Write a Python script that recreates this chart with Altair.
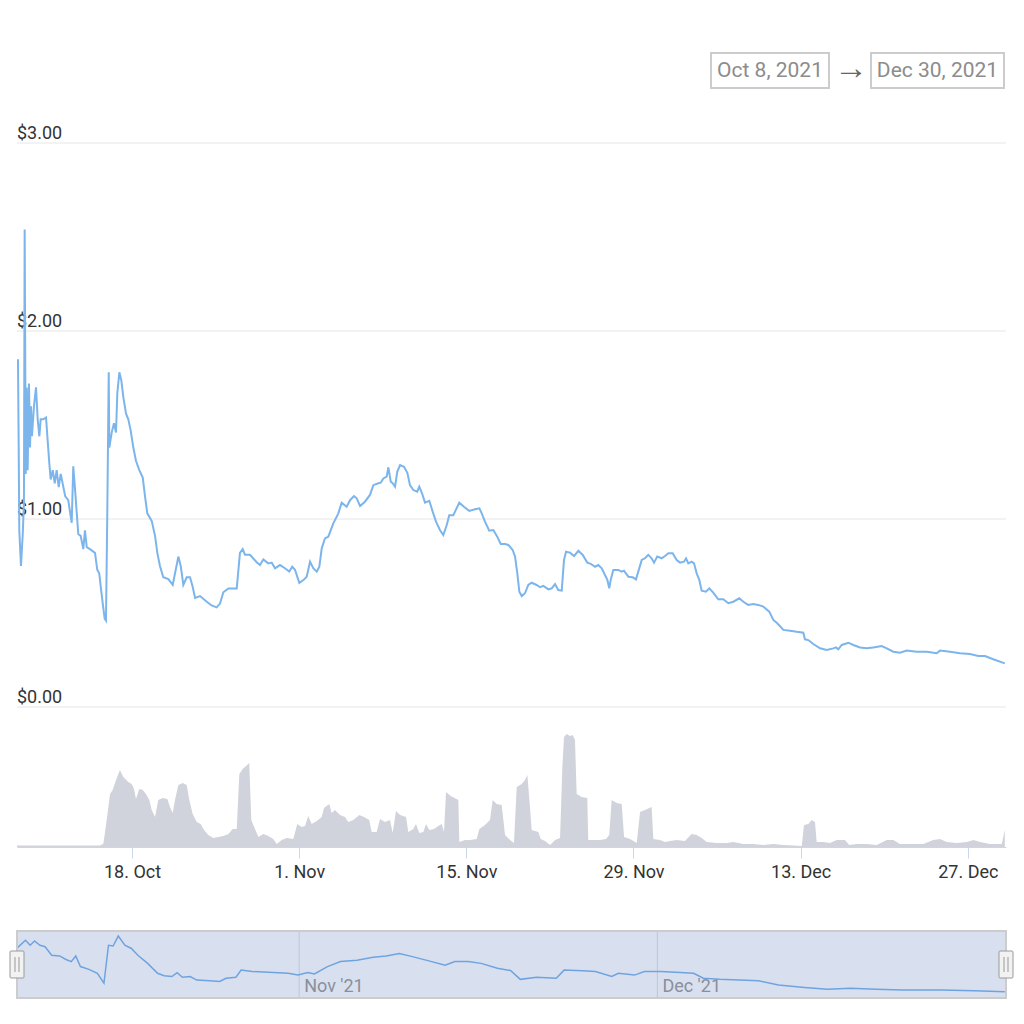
import altair as alt
import pandas as pd

# ---------------- data (days since 2021-10-08 00:00 UTC) ----------------
price_day = [0.45,0.51,0.56,0.70,0.85,0.95,1.01,1.10,1.18,1.26,
1.37,1.46,1.54,1.62,1.79,1.96,2.10,2.24,2.35,2.57,
2.80,2.91,3.07,3.19,3.36,3.53,3.69,3.86,4.03,4.25,
4.41,4.66,4.95,5.08,5.25,5.50,5.70,5.92,6.06,6.21,
6.48,6.90,7.09,7.26,7.38,7.55,7.71,7.82,7.93,8.05,
8.10,8.30,8.49,8.66,8.77,8.94,9.10,9.27,9.50,9.69,
9.89,10.11,10.33,10.61,10.90,11.09,11.28,11.65,11.93,12.12,
12.34,12.62,13.04,13.41,13.60,13.88,14.08,14.30,14.58,14.86,
15.08,15.28,15.70,16.26,16.67,17.09,17.37,17.65,18.07,18.77,
19.04,19.27,19.46,19.88,20.44,20.72,21.00,21.41,21.70,21.98,
22.39,22.81,23.17,23.42,23.65,24.01,24.35,24.63,24.91,25.18,
25.47,25.69,25.89,26.16,26.44,26.86,27.28,27.56,27.98,28.26,
28.59,28.82,29.10,29.51,29.93,30.21,30.63,30.83,31.05,31.33,
31.47,31.67,31.83,32.03,32.22,32.45,32.78,33.06,33.28,33.56,
33.89,34.06,34.29,34.54,34.90,35.18,35.46,35.80,36.07,36.36,
36.57,36.91,37.41,37.80,38.25,38.73,39.09,39.29,39.56,39.92,
40.26,40.59,40.88,41.24,41.52,41.88,42.08,42.27,42.44,42.64,
42.91,43.19,43.47,43.89,44.17,44.45,44.87,45.15,45.43,45.70,
45.99,46.18,46.35,46.68,47.02,47.38,47.75,48.13,48.42,48.78,
49.05,49.34,49.61,49.81,49.97,50.09,50.31,50.73,51.01,51.20,
51.57,51.93,52.21,52.40,52.69,52.96,53.24,53.52,53.72,53.99,
54.36,54.64,54.92,55.28,55.62,55.90,56.23,56.40,56.59,56.88,
57.07,57.29,57.51,57.71,58.07,58.35,58.68,59.10,59.52,59.94,
60.36,60.86,61.20,61.61,62.03,62.45,62.87,63.37,63.71,64.04,
64.55,65.11,65.67,66.22,66.36,66.64,67.06,67.62,68.18,68.73,
68.96,69.15,69.44,69.99,70.41,70.97,71.53,72.08,72.79,73.21,
73.76,74.32,74.88,75.72,76.56,77.39,77.67,78.51,79.35,80.18,
80.88,81.44,82.13,83.10]

price_usd = [1.85,1.38,0.94,0.75,0.92,1.09,2.54,1.24,1.70,1.26,
1.72,1.38,1.60,1.44,1.60,1.70,1.53,1.44,1.53,1.53,
1.54,1.44,1.30,1.21,1.26,1.19,1.26,1.17,1.24,1.17,
1.12,1.10,0.98,1.28,1.14,0.92,0.91,0.84,0.94,0.85,
0.84,0.82,0.73,0.71,0.64,0.55,0.47,0.46,1.03,1.78,
1.38,1.46,1.51,1.46,1.67,1.78,1.74,1.65,1.56,1.53,
1.47,1.38,1.31,1.26,1.22,1.12,1.03,0.99,0.91,0.82,
0.75,0.69,0.68,0.65,0.71,0.80,0.75,0.65,0.69,0.69,
0.64,0.58,0.59,0.56,0.54,0.53,0.55,0.61,0.63,0.63,
0.82,0.84,0.81,0.81,0.77,0.755,0.785,0.764,0.768,0.738,
0.755,0.738,0.72,0.746,0.73,0.66,0.675,0.693,0.773,0.738,
0.72,0.746,0.844,0.897,0.906,0.977,1.03,1.087,1.065,1.10,
1.122,1.11,1.069,1.092,1.128,1.18,1.19,1.193,1.216,1.225,
1.275,1.198,1.19,1.172,1.252,1.287,1.278,1.246,1.18,1.154,
1.145,1.172,1.137,1.087,1.097,1.039,0.986,0.94,0.915,0.968,
1.02,1.02,1.087,1.065,1.043,1.052,1.057,1.03,0.986,0.938,
0.941,0.906,0.867,0.867,0.862,0.835,0.80,0.711,0.613,0.59,
0.605,0.649,0.661,0.649,0.637,0.644,0.626,0.631,0.654,0.622,
0.619,0.782,0.826,0.821,0.803,0.831,0.809,0.768,0.761,0.746,
0.755,0.738,0.702,0.676,0.631,0.676,0.729,0.729,0.72,0.725,
0.693,0.69,0.679,0.72,0.782,0.791,0.809,0.791,0.768,0.80,
0.791,0.803,0.818,0.818,0.782,0.768,0.773,0.791,0.764,0.773,
0.764,0.711,0.676,0.619,0.613,0.631,0.608,0.573,0.573,0.552,
0.56,0.578,0.56,0.543,0.548,0.543,0.534,0.507,0.463,0.445,
0.41,0.406,0.40,0.395,0.36,0.356,0.335,0.312,0.303,0.312,
0.317,0.307,0.33,0.342,0.33,0.317,0.312,0.317,0.324,0.312,
0.294,0.289,0.30,0.294,0.294,0.286,0.30,0.294,0.286,0.282,
0.271,0.271,0.254,0.232]

volume_day = [0.37,3.97,7.32,7.60,7.88,8.16,8.38,8.66,8.99,9.27,
9.69,9.97,10.17,10.33,10.61,10.90,11.17,11.45,11.65,11.93,
12.20,12.57,12.96,13.18,13.41,13.60,13.88,14.25,14.58,14.80,
15.08,15.42,15.75,16.03,16.39,16.81,17.23,17.65,18.07,18.43,
18.77,18.99,19.27,19.55,19.82,19.99,20.30,20.58,21.00,21.41,
21.83,22.12,22.54,22.96,23.51,23.84,24.21,24.49,24.76,25.05,
25.47,25.89,26.08,26.52,26.72,27.00,27.42,27.84,28.11,28.53,
29.04,29.43,29.87,30.07,30.49,30.77,31.19,31.61,31.83,32.11,
32.45,32.95,33.14,33.56,33.78,34.06,34.40,34.62,34.90,35.29,
35.65,35.94,36.13,36.30,36.69,37.33,37.41,37.89,38.31,38.87,
39.09,39.56,39.98,40.21,40.54,40.96,41.24,41.66,41.99,42.22,
42.64,42.91,43.11,43.33,43.47,44.03,44.23,44.59,45.01,45.43,
45.85,46.04,46.18,46.41,46.68,46.91,47.10,47.24,47.66,48.13,
48.21,48.77,49.19,49.70,49.97,50.17,50.59,51.01,51.21,51.71,
52.27,52.55,52.96,53.52,53.66,54.22,54.64,55.06,55.62,56.31,
56.87,57.29,57.71,58.13,58.97,59.81,60.36,61.20,62.03,62.87,
63.71,64.55,65.38,66.09,66.28,66.64,66.92,67.20,67.34,67.90,
68.46,69.02,69.71,70.07,70.69,71.53,72.37,73.21,73.76,74.32,
75.43,76.27,77.11,77.67,78.23,79.07,79.91,80.47,81.03,81.86,
82.84,83.10]

volume_val = [1.5,1.5,1.5,3.3,27,53,57,67,77,70,
65,63,58,48,58,57,53,47,37,30,
47,49,48,40,34,47,62,64,62,47,
33,25,23,17,12,9,10,11,13,18,
18,73,78,81,84,27,18,10,13,11,
8,3,7,9,8,23,20,21,31,23,
26,30,39,43,34,37,32,30,25,27,
32,30,27,15,15,28,25,27,14,36,
32,30,15,18,23,14,15,23,17,18,
21,23,15,55,51,47,5,7,7,8,
18,22,27,47,43,42,12,7,4,60,
63,67,72,40,17,15,8,6,2,7,
9,80,110,113,111,112,107,53,50,49,
7,7,7,8,12,47,44,43,10,8,
4,35,37,40,8,7,5,6,7,6,
13,12,9,5,4,4,5,3,3,2,
3,2,1.5,1,22,23,27,25,5,5,
4,7,7,2,3,3,2,7,7,3,
3,3,7,8,5,4,5,7,5,3,
3,17]

nav_day = [0.37,1.08,1.47,1.84,2.29,2.72,3.27,3.93,4.47,4.91,
5.29,5.68,6.39,7.10,7.65,8.03,8.42,8.85,9.40,9.95,
10.49,11.31,12.14,12.69,13.34,13.78,14.22,14.87,15.42,16.52,
17.34,17.88,18.70,19.14,20.07,21.44,23.08,23.90,24.72,25.28,
26.37,27.46,28.84,30.20,31.30,32.39,33.48,34.86,36.22,37.04,
38.14,39.24,40.60,41.70,42.52,43.89,45.53,46.19,47.72,48.81,
50.18,50.73,52.09,52.91,54.29,55.93,57.03,57.85,59.21,60.85,
62.49,64.14,66.33,68.25,70.16,72.35,74.54,77.82,80.56,83.10]

nav_usd = [1.49,1.71,1.57,1.69,1.57,1.53,1.29,1.27,1.17,1.11,
1.27,0.97,0.89,0.78,0.50,1.57,1.55,1.83,1.57,1.48,
1.29,1.06,0.78,0.71,0.69,0.80,0.67,0.69,0.59,0.57,
0.55,0.64,0.67,0.87,0.83,0.81,0.78,0.73,0.80,0.76,
0.97,1.11,1.15,1.23,1.27,1.34,1.25,1.13,1.01,1.11,
1.11,1.06,0.92,0.86,0.61,0.67,0.64,0.87,0.85,0.83,
0.69,0.78,0.73,0.83,0.83,0.80,0.78,0.64,0.61,0.59,
0.57,0.45,0.38,0.33,0.36,0.33,0.31,0.31,0.29,0.26]

tick_dates = ["2021-10-18", "2021-11-01", "2021-11-15", "2021-11-29", "2021-12-13", "2021-12-27"]
nav_month_dates = ["2021-11-01", "2021-12-01"]
nav_month_labels = ["Nov '21", "Dec '21"]
price_ticks = [0, 1, 2, 3]
price_tick_labels = ["$0.00", "$1.00", "$2.00", "$3.00"]
range_labels = ["Oct 8, 2021", "Dec 30, 2021"]

# ---------------- helpers ----------------
T0 = pd.Timestamp("2021-10-08T00:00:00Z")


def stamps(days):
    return [(T0 + pd.Timedelta(days=float(d))).strftime("%Y-%m-%dT%H:%M:%SZ") for d in days]


def dt(s, hours=0, minutes=0):
    ts = pd.Timestamp(s)
    return alt.DateTime(year=ts.year, month=ts.month, date=ts.day, hours=hours, minutes=minutes, utc=True)


price_df = pd.DataFrame({"t": stamps(price_day), "p": price_usd})
vol_df = pd.DataFrame({"t": stamps(volume_day), "v": volume_val})
nav_df = pd.DataFrame({"t": stamps(nav_day), "p": nav_usd})
month_df = pd.DataFrame({"t": [d + "T00:00:00Z" for d in nav_month_dates], "label": nav_month_labels})
ticks_df = pd.DataFrame({"v": price_ticks, "label": price_tick_labels})
one = pd.DataFrame({"a": [0]})

W, H = 989, 704
FONT = "Roboto"

xscale = alt.Scale(type="utc", domain=[dt("2021-10-08", 8, 50), dt("2021-12-30", 4, 44)], nice=False)
xaxis = alt.Axis(
    values=[dt(d) for d in tick_dates],
    labelExpr="utcFormat(datum.value, '%-d. %b')",
    grid=False, domainColor="#ccd6eb", domainWidth=1,
    tickColor="#ccd6eb", tickSize=11, tickWidth=1,
    labelFontSize=18, labelFont=FONT, labelColor="#333333",
    labelPadding=5, labelFlush=False, labelOverlap=False, title=None,
)


def X():
    return alt.X("t:T", scale=xscale, axis=xaxis, title=None)


price_scale = alt.Scale(domain=[0, 3], range=[564, 0], nice=False, zero=False)
vol_scale = alt.Scale(domain=[0, 127], range=[704, 577], nice=False)
nav_scale = alt.Scale(domain=[0, 2], range=[858, 787], nice=False, zero=False)

grid = alt.Chart(ticks_df).mark_rule(color="#e6e6e6", strokeWidth=1).encode(
    x=alt.value(0), x2=alt.value(W), y=alt.Y("v:Q", scale=price_scale, axis=None))
ylabels = alt.Chart(ticks_df).mark_text(
    align="left", baseline="alphabetic", dy=-4, fontSize=18, font=FONT, color="#333333"
).encode(x=alt.value(0), y=alt.Y("v:Q", scale=price_scale, axis=None), text="label:N")

vol = alt.Chart(vol_df).mark_area(color="#d0d3db", opacity=1).encode(
    x=X(), y=alt.Y("v:Q", scale=vol_scale, axis=None))
line = alt.Chart(price_df).mark_line(color="#7cb5ec", strokeWidth=2).encode(
    x=X(), y=alt.Y("p:Q", scale=price_scale, axis=None))

# navigator
nav_bg = alt.Chart(one).mark_rect(fill="#d8e0f0").encode(
    x=alt.value(0), x2=alt.value(W), y=alt.value(788), y2=alt.value(855))
nav_grid = alt.Chart(month_df).mark_rule(color="#bfc7d6", strokeWidth=1).encode(
    x=X(), y=alt.value(788), y2=alt.value(855))
nav_text = alt.Chart(month_df).mark_text(
    align="left", baseline="alphabetic", dx=5, fontSize=18, font=FONT, color="#8a8f99"
).encode(x=X(), y=alt.value(849), text="label:N")
nav_line = alt.Chart(nav_df).mark_line(color="#6fa3e0", strokeWidth=1.5).encode(
    x=X(), y=alt.Y("p:Q", scale=nav_scale, axis=None))
nav_outline = alt.Chart(one).mark_rect(fillOpacity=0, stroke="#cccccc", strokeWidth=2).encode(
    x=alt.value(0), x2=alt.value(W), y=alt.value(788), y2=alt.value(855))

handles = []
for cx in (0, W):
    handles.append(alt.Chart(one).mark_rect(fill="#f2f2f2", stroke="#999999", strokeWidth=1, cornerRadius=1).encode(
        x=alt.value(cx - 7), x2=alt.value(cx + 7), y=alt.value(808), y2=alt.value(835)))
    for off in (-2, 2):
        handles.append(alt.Chart(one).mark_rule(color="#999999", strokeWidth=1).encode(
            x=alt.value(cx + off), y=alt.value(814), y2=alt.value(829)))

# range boxes
boxes = []
for (x0, x1, label) in ((694, 812, range_labels[0]), (854, 987, range_labels[1])):
    boxes.append(alt.Chart(one).mark_rect(fill="white", stroke="#cccccc", strokeWidth=2).encode(
        x=alt.value(x0), x2=alt.value(x1), y=alt.value(-90), y2=alt.value(-55)))
    boxes.append(alt.Chart(one).mark_text(
        align="center", baseline="middle", fontSize=21, font=FONT, color="#8c8c8c"
    ).encode(x=alt.value((x0 + x1) / 2), y=alt.value(-72), text=alt.value(label)))
boxes.append(alt.Chart(one).mark_text(
    align="center", baseline="middle", fontSize=34, font=FONT, color="#666666"
).encode(x=alt.value(834), y=alt.value(-74), text=alt.value("→")))

chart = alt.layer(
    grid, ylabels, vol, line,
    nav_bg, nav_grid, nav_text, nav_line, nav_outline, *handles, *boxes
).resolve_scale(y="independent").properties(
    width=W, height=H,
    autosize=alt.AutoSizeParams(type="none"),
    padding={"left": 9, "top": 135, "right": 10, "bottom": 165},
    background="white",
).configure(font=FONT).configure_view(strokeWidth=0, stroke="transparent")

chart.save("out.html", embed_options={"renderer": "svg", "actions": False})
